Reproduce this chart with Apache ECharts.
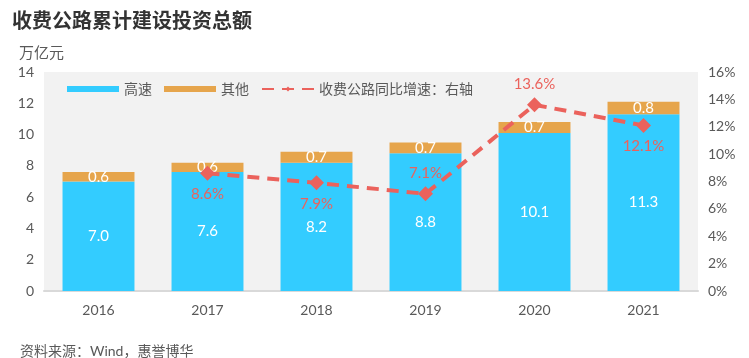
<!DOCTYPE html>
<html><head><meta charset="utf-8">
<script src="https://cdn.jsdelivr.net/npm/echarts@6/dist/echarts.min.js"></script>
<style>html,body{margin:0;padding:0;background:#fff}#c{width:749px;height:358px}</style>
</head><body><div id="c"></div>
<script>
const categories = ['2016','2017','2018','2019','2020','2021'];
const highway = [7.0, 7.6, 8.2, 8.8, 10.1, 11.3];
const other = [0.6, 0.6, 0.7, 0.7, 0.7, 0.8];
const growth = [null, 8.6, 7.9, 7.1, 13.6, 12.1];
const growthLabelPos = ['bottom','bottom','bottom','top','top','bottom'];
const leftTicks = [0,2,4,6,8,10,12,14];
const rightTicks = [0,2,4,6,8,10,12,14,16];

const FONT = 'Lato, "Noto Sans CJK SC", sans-serif';
const chart = echarts.init(document.getElementById('c'));
chart.setOption({
  animation: false,
  textStyle: {fontFamily: FONT},
  title: [
    {text: '收费公路累计建设投资总额', left: 7, top: 5,
     textStyle: {fontSize: 20, fontWeight: 'bold', color: '#333', fontFamily: '"Noto Sans CJK SC", sans-serif'}},
    {text: '万亿元', left: 14, top: 40,
     textStyle: {fontSize: 15, fontWeight: 'normal', color: '#595959', fontFamily: '"Noto Sans CJK SC", sans-serif'}},
    {text: '资料来源：Wind，惠誉博华', left: 15, top: 339,
     textStyle: {fontSize: 14, fontWeight: 'normal', color: '#595959', fontFamily: FONT}}
  ],
  legend: {
    left: 62, top: 77, itemWidth: 52, itemHeight: 6, itemGap: 12,
    textStyle: {fontSize: 14, color: '#595959', fontFamily: FONT},
    data: [
      {name: '高速', icon: 'rect'},
      {name: '其他', icon: 'rect'},
      {name: '收费公路同比增速：右轴'}
    ]
  },
  grid: {left: 44, right: 51, top: 72, bottom: 67, show: true, backgroundColor: '#F2F2F2', borderWidth: 0},
  xAxis: {
    type: 'category', data: categories,
    axisLine: {lineStyle: {color: '#D9D9D9', width: 2}},
    axisTick: {show: false},
    axisLabel: {fontSize: 14, color: '#595959', margin: 12}
  },
  yAxis: [
    {type: 'value', min: 0, max: 14, interval: 2, splitLine: {show: false},
     axisLabel: {fontSize: 14, color: '#595959', margin: 10}},
    {type: 'value', min: 0, max: 16, interval: 2, splitLine: {show: false},
     axisLabel: {fontSize: 14, color: '#595959', margin: 10, formatter: '{value}%'}}
  ],
  series: [
    {name: '高速', type: 'bar', stack: 's', data: highway, barWidth: '66%',
     itemStyle: {color: '#33CCFF'},
     label: {show: true, position: 'inside', color: '#fff', fontSize: 15, formatter: p => p.value.toFixed(1)}},
    {name: '其他', type: 'bar', stack: 's', data: other,
     itemStyle: {color: '#E6A54C'},
     label: {show: true, position: 'inside', color: '#fff', fontSize: 15, formatter: p => p.value.toFixed(1)}},
    {name: '收费公路同比增速：右轴', type: 'line', yAxisIndex: 1,
     data: growth.map((v, i) => ({value: v, label: {position: growthLabelPos[i]}})),
     symbol: 'diamond', symbolSize: 15,
     itemStyle: {color: '#EB625C'},
     lineStyle: {color: '#EB625C', width: 4, type: [12, 8]},
     label: {show: true, color: '#EB625C', fontSize: 15, distance: 6, formatter: p => p.value.toFixed(1) + '%'}}
  ]
});
</script></body></html>
